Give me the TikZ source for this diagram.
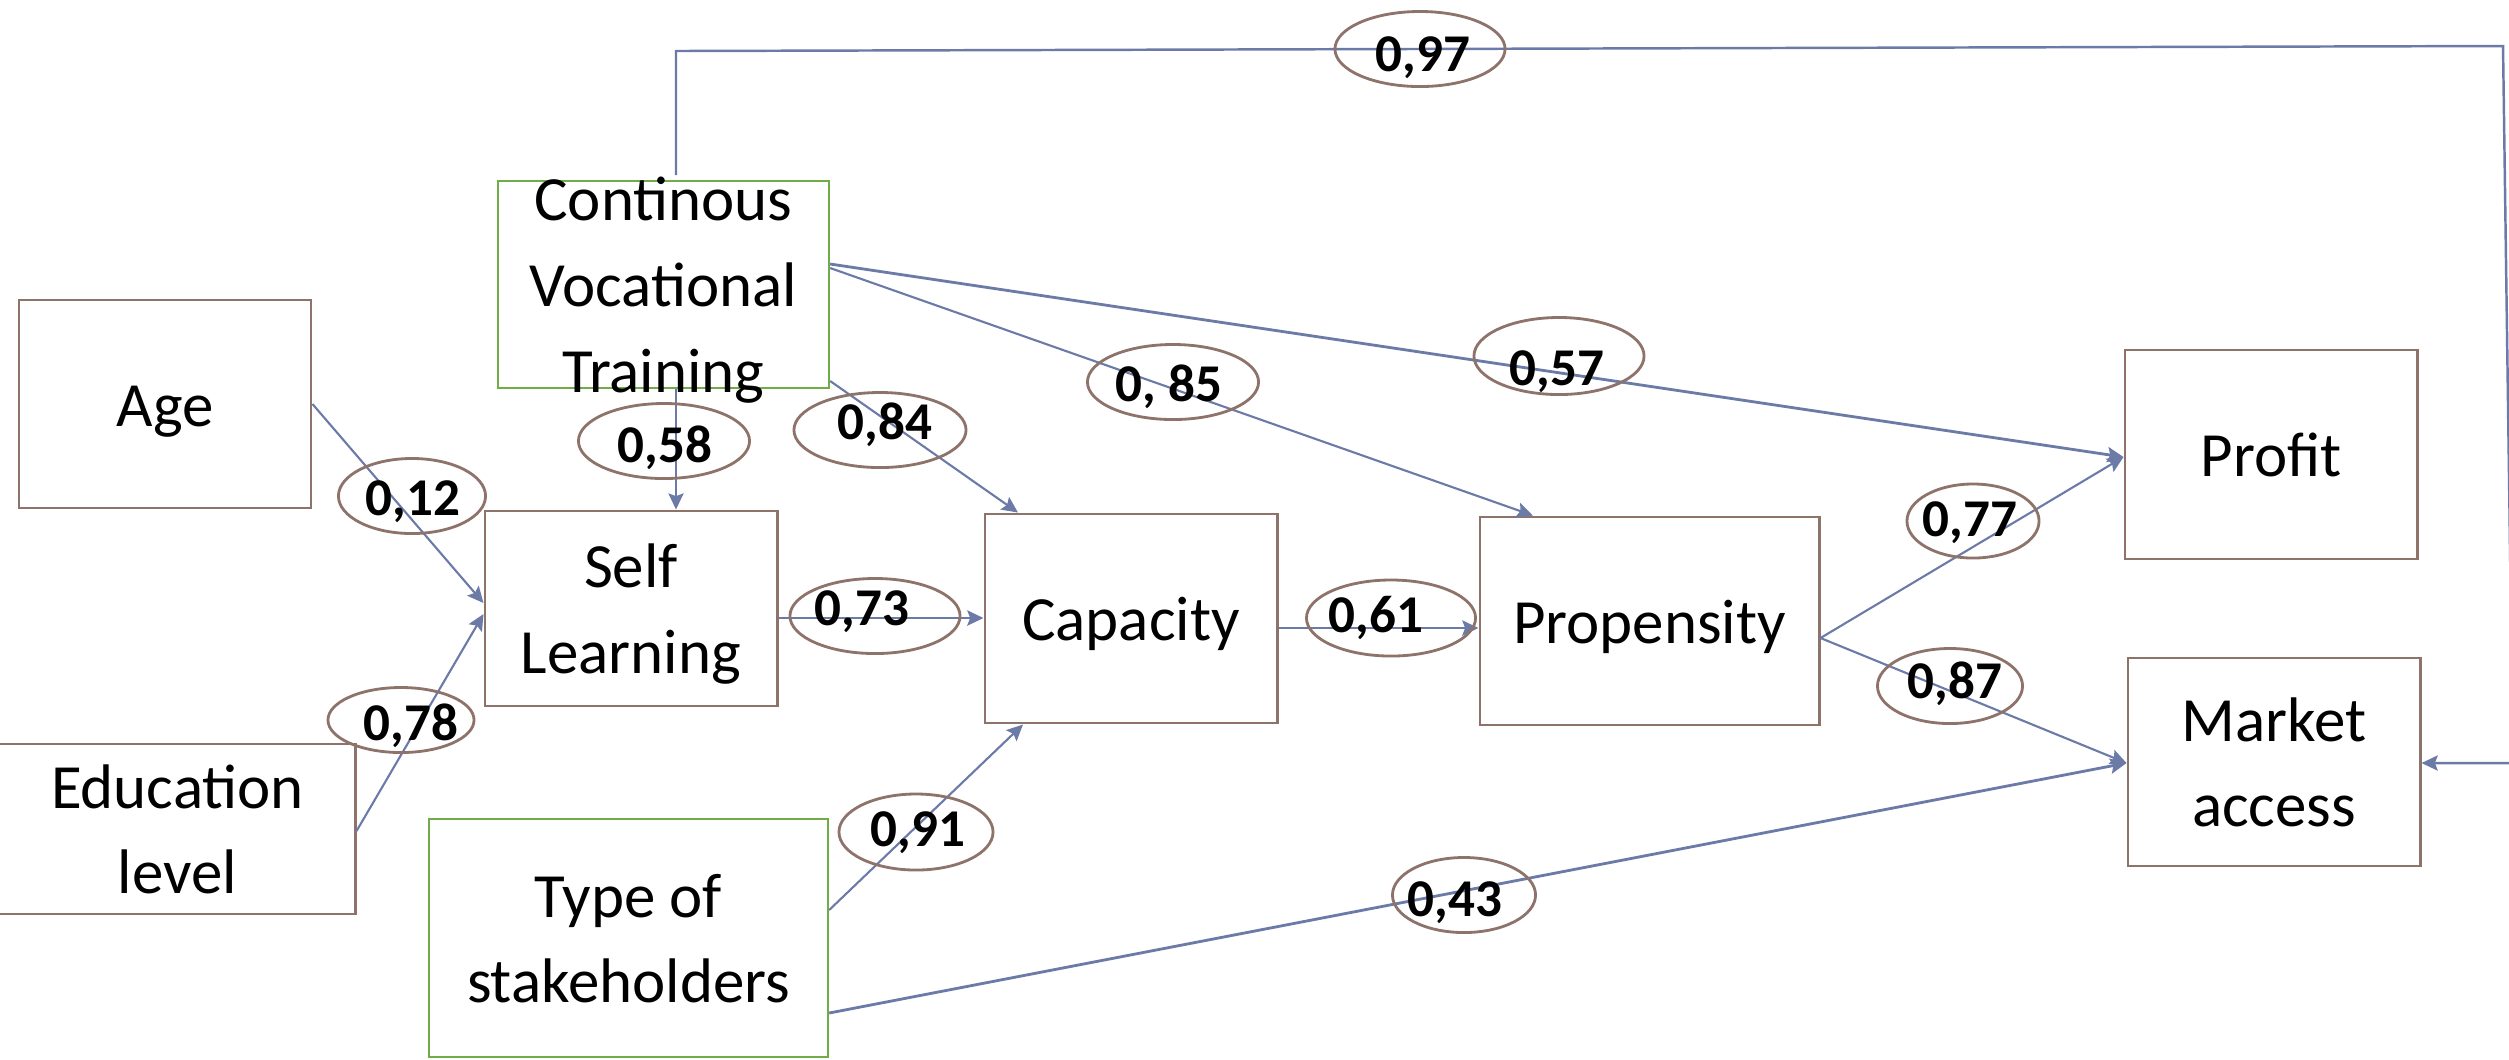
\documentclass[tikz,border=0pt]{standalone}
\usepackage{fontspec}
\setmainfont{Carlito}
\usetikzlibrary{arrows.meta,shapes.geometric}
\definecolor{boxbrown}{RGB}{141,115,106}
\definecolor{linkblue}{RGB}{108,122,168}
\definecolor{boxgreen}{RGB}{112,173,71}
\newcommand{\bxstrut}{\rule[-0.19cm]{0pt}{0.82cm}}
\newcommand{\lbstrut}{\rule[-0.115cm]{0pt}{0.565cm}}
\begin{document}
\begin{tikzpicture}[x=0.01cm,y=-0.01cm,
  bbox/.style={draw=boxbrown, line width=0.8pt, rectangle, inner sep=0pt},
  gbox/.style={draw=boxgreen, line width=0.6pt, rectangle, inner sep=0pt},
  txt/.style={inner sep=0pt, align=center, font=\fontsize{17.9pt}{23.25pt}\selectfont},
  ell/.style={ellipse, draw=boxbrown, line width=0.8pt, inner sep=0pt},
  lbl/.style={inner sep=0pt, font=\fontsize{15.1pt}{18pt}\selectfont\bfseries},
  link/.style={draw=linkblue, line width=0.6pt, -{Stealth[length=4.6pt,width=4.3pt,inset=0.8pt]}},
  thlink/.style={link, line width=0.8pt}
]
\useasboundingbox (0,0) rectangle (2509,1059);
\clip (0,0) rectangle (2509,1059);

% boxes
\node[bbox, minimum width=2.92cm, minimum height=2.08cm] (age) at (165,404) {};
\node[gbox, minimum width=3.31cm, minimum height=2.07cm] (cvt) at (663.5,284.5) {};
\node[bbox, minimum width=2.92cm, minimum height=1.95cm] (sl) at (631,608.5) {};
\node[bbox, minimum width=3.58cm, minimum height=1.70cm] (edu) at (176,829) {};
\node[gbox, minimum width=3.99cm, minimum height=2.38cm] (tos) at (628.5,938) {};
\node[bbox, minimum width=2.92cm, minimum height=2.09cm] (cap) at (1131,618.5) {};
\node[bbox, minimum width=3.39cm, minimum height=2.08cm] (prop) at (1649.5,621) {};
\node[bbox, minimum width=2.92cm, minimum height=2.09cm] (profit) at (2271,454.5) {};
\node[bbox, minimum width=2.92cm, minimum height=2.08cm] (ma) at (2274,762) {};

% box texts
\node[txt] (age-t) at (age) {\bxstrut Age};
\node[txt] (cvt-t) at (cvt) {\bxstrut Continous\\\bxstrut Vocational\\\bxstrut Training};
\node[txt] (sl-t) at (sl) {\bxstrut Self\\\bxstrut Learning};
\node[txt] (edu-t) at (177.5,829) {\bxstrut Education\\\bxstrut level};
\node[txt] (tos-t) at (tos) {\bxstrut Type of\\\bxstrut stakeholders};
\node[txt] (cap-t) at (cap) {\bxstrut Capacity};
\node[txt] (prop-t) at (prop) {\bxstrut Propensity};
\node[txt] (profit-t) at (profit) {\bxstrut Profit};
\node[txt] (ma-t) at (ma) {\bxstrut Market\\\bxstrut access};

% connectors
\draw[link] (age.east) -- (sl.west |- 0,603);
\draw[link] (edu.east |- 0,831) -- (sl.west |- 0,614);
\draw[link] (676,0 |- cvt.south) -- (676,0 |- sl.north);
\draw[link] (cvt.east |- 0,381) -- (1018,0 |- cap.north);
\draw[link] (cvt.east |- 0,268) -- (1533,0 |- prop.north);
\draw[thlink] (cvt.east |- 0,264) -- (profit.west |- 0,457);
\draw[thlink] (sl.east |- 0,618) -- (cap.west |- 0,618);
\draw[thlink] (cap.east |- 0,628) -- (prop.west |- 0,628);
\draw[link] (tos.east |- 0,910) -- (1023,0 |- cap.south);
\draw[thlink] (tos.east |- 0,1013) -- (ma.west |- 0,763);
\draw[link] (prop.east |- 0,638) -- (profit.west |- 0,457);
\draw[link] (prop.east |- 0,638) -- (ma.west |- 0,763);
\coordinate (loopstart) at (676,175);
\draw[link, line width=0.7pt] (loopstart) -- (676,51) -- (2503,46) -- (2513,763) -- (ma.east |- 0,763);

% coefficient ellipses
\node[ell, minimum width=1.70cm, minimum height=0.75cm] (e97) at (1420,49) {};
\node[ell, minimum width=1.70cm, minimum height=0.77cm] (e57) at (1559,356) {};
\node[ell, minimum width=1.71cm, minimum height=0.75cm] (e85) at (1173,382) {};
\node[ell, minimum width=1.72cm, minimum height=0.75cm] (e84) at (880,430) {};
\node[ell, minimum width=1.71cm, minimum height=0.75cm] (e58) at (664,441) {};
\node[ell, minimum width=1.47cm, minimum height=0.75cm] (e12) at (412,496) {};
\node[ell, minimum width=1.46cm, minimum height=0.65cm] (e78) at (401,720) {};
\node[ell, minimum width=1.70cm, minimum height=0.75cm] (e73) at (875,616) {};
\node[ell, minimum width=1.54cm, minimum height=0.76cm] (e91) at (916,832) {};
\node[ell, minimum width=1.69cm, minimum height=0.76cm] (e61) at (1391,618) {};
\node[ell, minimum width=1.32cm, minimum height=0.74cm] (e77) at (1973,521) {};
\node[ell, minimum width=1.45cm, minimum height=0.75cm] (e87) at (1950,686) {};
\node[ell, minimum width=1.43cm, minimum height=0.75cm] (e43) at (1464,895) {};

% coefficient texts
\node[lbl] (t97) at (1423,55) {\lbstrut 0,97};
\node[lbl] (t57) at (1557,369) {\lbstrut 0,57};
\node[lbl] (t85) at (1169,385) {\lbstrut 0, 85};
\node[lbl] (t84) at (885,423) {\lbstrut 0,84};
\node[lbl] (t58) at (665,446) {\lbstrut 0,58};
\node[lbl] (t12) at (413,499) {\lbstrut 0,12};
\node[lbl] (t78) at (411,724) {\lbstrut 0,78};
\node[lbl] (t73) at (862,609) {\lbstrut 0,73};
\node[lbl] (t91) at (918,830) {\lbstrut 0,91};
\node[lbl] (t61) at (1376,616) {\lbstrut 0,61};
\node[lbl] (t77) at (1970,520) {\lbstrut 0,77};
\node[lbl] (t87) at (1955,682) {\lbstrut 0,87};
\node[lbl] (t43) at (1455,900) {\lbstrut 0,43};
\end{tikzpicture}
\end{document}
